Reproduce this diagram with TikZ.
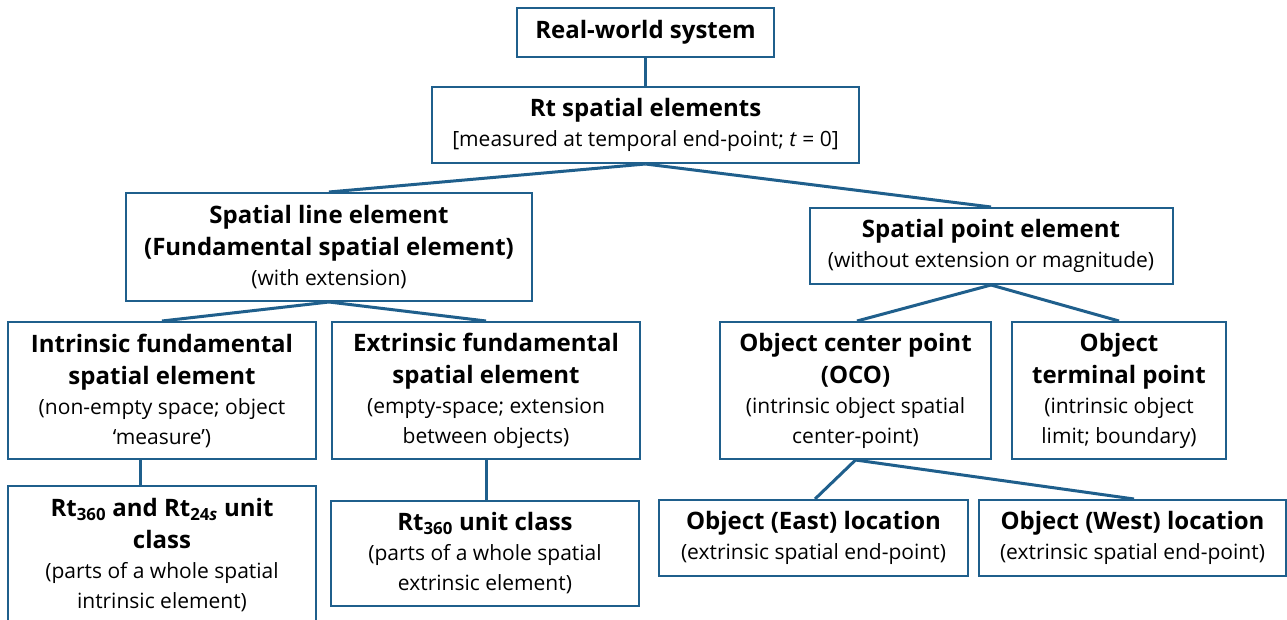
\documentclass[tikz,border=0pt]{standalone}
\usepackage{fontspec}
\setmainfont{Open Sans}
\definecolor{boxblue}{RGB}{31,95,140}
\newcommand{\bt}[1]{{\fontsize{24}{30}\selectfont\bfseries #1}}
\begin{document}
\begin{tikzpicture}[x=1pt,y=-1pt,
  box/.style={draw=boxblue, line width=2pt, fill=white, rectangle, inner sep=0pt, align=center,
    font=\fontsize{21}{30}\selectfont},
  link/.style={draw=boxblue, line width=3pt}]
\useasboundingbox (0,0) rectangle (1287,620);
\fill[white] (0,0) rectangle (1287,620);
\begin{scope}
\clip (0,0) rectangle (1287,620);
\node[box, minimum width=257pt, minimum height=49pt] (rws) at (645.5,32.5) {\bt{Real-world system}};
\node[box, minimum width=427pt, minimum height=76pt] (rt) at (645.5,125) {\bt{Rt spatial elements}\\{}[measured at temporal end-point; \textit{t} = 0]};
\node[box, minimum width=406pt, minimum height=108pt] (line) at (329,247) {\bt{Spatial line element}\\[2pt]\bt{(Fundamental spatial element)}\\(with extension)};
\node[box, minimum width=363pt, minimum height=76pt] (point) at (991,246) {\bt{Spatial point element}\\(without extension or magnitude)};
\node[box, minimum width=308pt, minimum height=137pt] (intr) at (162,390.5) {\bt{Intrinsic fundamental}\\[2pt]\bt{spatial element}\\(non-empty space; object\\‘measure’)};
\node[box, minimum width=308pt, minimum height=137pt] (extr) at (486,390.5) {\bt{Extrinsic fundamental}\\[2pt]\bt{spatial element}\\(empty-space; extension\\between objects)};
\node[box, minimum width=271pt, minimum height=137pt] (oco) at (855.5,390.5) {\bt{Object center point}\\[2pt]\bt{(OCO)}\\(intrinsic object spatial\\center-point)};
\node[box, minimum width=214pt, minimum height=137pt] (term) at (1119,390.5) {\bt{Object}\\[2pt]\bt{terminal point}\\(intrinsic object\\limit; boundary)};
\node[box, minimum width=308pt, minimum height=138pt] (rta) at (162,555) {\bt{Rt\textsubscript{360} and Rt\textsubscript{24\textit{s}} unit}\\[2pt]\bt{class}\\(parts of a whole spatial\\intrinsic element)};
\node[box, minimum width=308pt, minimum height=105pt] (rtb) at (485,553.5) {\bt{Rt\textsubscript{360} unit class}\\(parts of a whole spatial\\extrinsic element)};
\node[box, minimum width=309pt, minimum height=76pt] (east) at (813.5,538) {\bt{Object (East) location}\\(extrinsic spatial end-point)};
\node[box, minimum width=307pt, minimum height=76pt] (west) at (1132.5,538) {\bt{Object (West) location}\\(extrinsic spatial end-point)};
\end{scope}
\path[link] (rws.south) -- (rt.north);
\path[link] (rt.south) -- (line.north);
\path[link] (rt.south) -- (point.north);
\path[link] (line.south) -- (intr.north);
\path[link] (line.south) -- (extr.north);
\path[link] (point.south) -- ([xshift=1.5pt]oco.north);
\path[link] (point.south) -- (term.north);
\path[link] ([xshift=-22pt]intr.south) -- ([xshift=-22pt]rta.north);
\path[link] (extr.south) -- ([xshift=1pt]rtb.north);
\path[link] (oco.south) -- ([xshift=1.5pt]east.north);
\path[link] (oco.south) -- ([xshift=1.5pt]west.north);
\end{tikzpicture}
\end{document}
